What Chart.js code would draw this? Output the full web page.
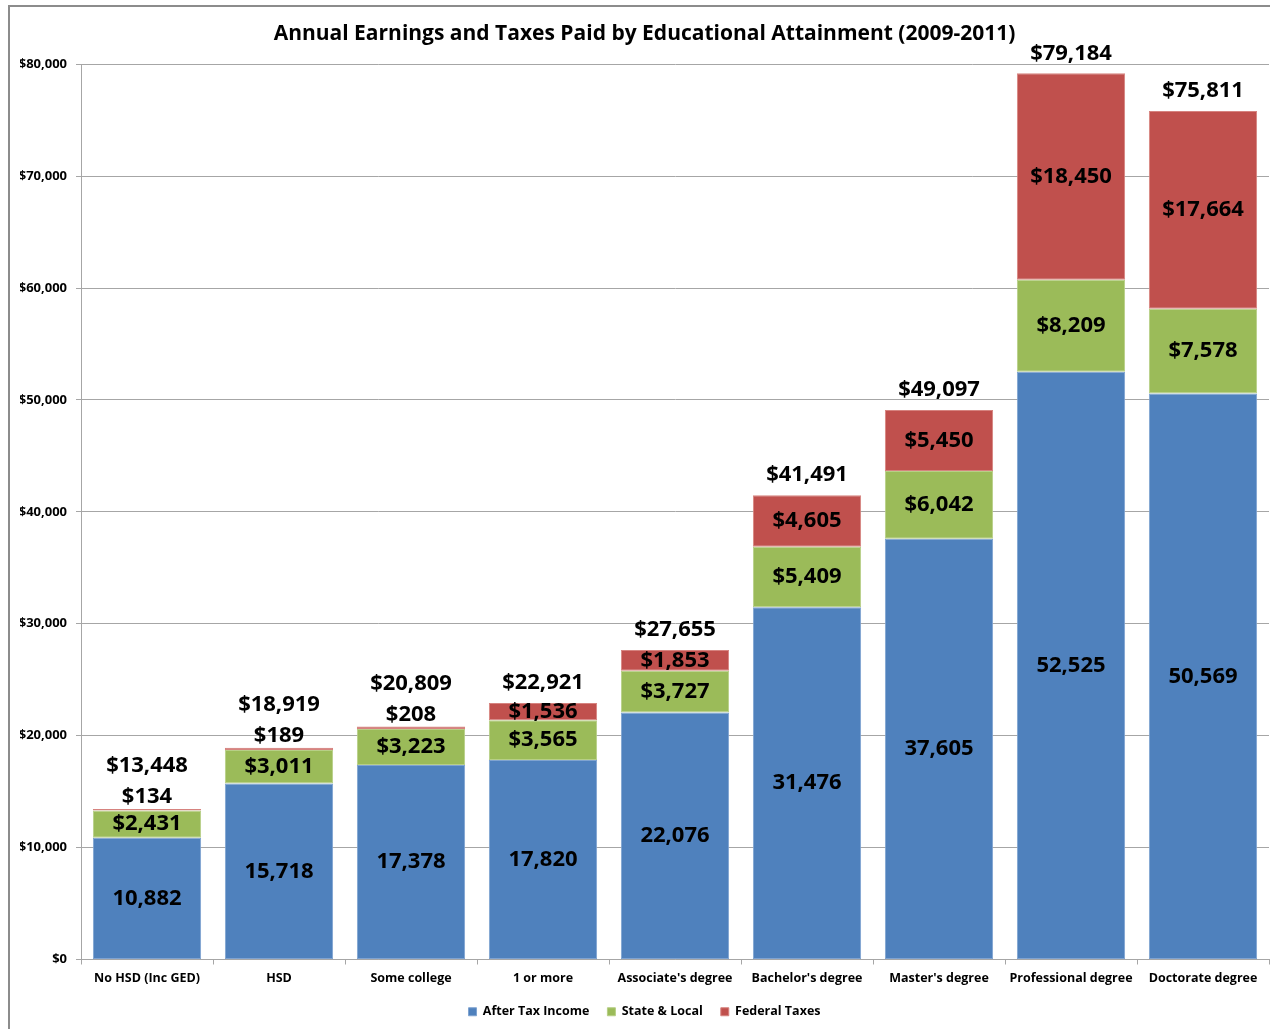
<!DOCTYPE html>
<html>
<head>
<meta charset="utf-8">
<title>Annual Earnings and Taxes Paid by Educational Attainment</title>
<script src="https://cdn.jsdelivr.net/npm/chart.js@4.4.0/dist/chart.umd.min.js"></script>
<style>
  html, body { margin: 0; padding: 0; background: #fff; overflow: hidden; }
  #frame { position: absolute; left: 8px; top: 5px; width: 1270px; height: 1040px;
           border-left: 2px solid #8c8c8c; border-top: 2px solid #8c8c8c; }
  #chartBox { position: absolute; left: 0; top: 0; width: 1260px; height: 1022px; }
</style>
</head>
<body>
<div id="frame"><div id="chartBox"><canvas id="myChart"></canvas></div></div>
<script>
const categories = ["No HSD (Inc GED)", "HSD", "Some college", "1 or more", "Associate's degree",
  "Bachelor's degree", "Master's degree", "Professional degree", "Doctorate degree"];
const afterTax   = [10882, 15718, 17378, 17820, 22076, 31476, 37605, 52525, 50569];
const stateLocal = [2431, 3011, 3223, 3565, 3727, 5409, 6042, 8209, 7578];
const federal    = [134, 189, 208, 1536, 1853, 4605, 5450, 18450, 17664];
const totals     = [13448, 18919, 20809, 22921, 27655, 41491, 49097, 79184, 75811];
const yTicks     = [0, 10000, 20000, 30000, 40000, 50000, 60000, 70000, 80000];

const FONT = "'Open Sans', Lato, sans-serif";

function money(v) {
  return "$" + v.toLocaleString("en-US");
}

// value labels inside each segment, totals on top of each stack
var segmentLabels = {
  id: "segmentLabels",
  afterDatasetsDraw: function(chart) {
    var ctx = chart.ctx;
    ctx.save();
    ctx.font = "bold 22px " + FONT;
    ctx.fillStyle = "#000";
    ctx.textAlign = "center";
    ctx.textBaseline = "middle";
    for (var i = 0; i < categories.length; i++) {
      var blue = chart.getDatasetMeta(0).data[i];
      var green = chart.getDatasetMeta(1).data[i];
      var red = chart.getDatasetMeta(2).data[i];
      ctx.fillText(afterTax[i].toLocaleString("en-US"), blue.x, (blue.y + blue.base) / 2);
      ctx.fillText(money(stateLocal[i]), green.x, (green.y + green.base) / 2);
      if (red.base - red.y < 10) {
        // too thin to hold its label, so it sits above the bar
        ctx.fillText(money(federal[i]), red.x, red.y - 12);
        ctx.fillText(money(totals[i]), red.x, red.y - 43);
      } else {
        ctx.fillText(money(federal[i]), red.x, (red.y + red.base) / 2);
        ctx.fillText(money(totals[i]), red.x, red.y - 20);
      }
    }
    ctx.restore();
  }
};

function barSet(label, data, color, edge) {
  return {
    label: label,
    data: data,
    backgroundColor: color,
    borderColor: edge,
    borderWidth: 1,
    borderSkipped: false,
    barPercentage: 0.82,
    categoryPercentage: 1.0
  };
}

new Chart("myChart", {
  type: "bar",
  data: {
    labels: categories,
    datasets: [
      barSet("After Tax Income", afterTax, "#4F81BD", "#7fa3d1"),
      barSet("State & Local", stateLocal, "#9BBB59", "#b7cf86"),
      barSet("Federal Taxes", federal, "#C0504D", "#d6837f")
    ]
  },
  plugins: [segmentLabels],
  options: {
    responsive: true,
    maintainAspectRatio: false,
    animation: false,
    layout: { padding: { left: 10, right: 1, top: 0, bottom: 1 } },
    scales: {
      x: {
        stacked: true,
        grid: { display: true, drawOnChartArea: false, tickLength: 5, color: "#a6a6a6", offset: true },
        border: { color: "#a6a6a6" },
        ticks: { color: "#000", font: { family: FONT, size: 12.5, weight: "bold" }, padding: 6, maxRotation: 0 },
        afterFit: function(scale) { scale.height = 28; }
      },
      y: {
        stacked: true,
        min: 0,
        max: 80000,
        afterBuildTicks: function(scale) {
          scale.ticks = yTicks.map(function(v) { return { value: v }; });
        },
        grid: { color: "#a6a6a6", tickLength: 5 },
        border: { color: "#a6a6a6" },
        ticks: {
          color: "#000",
          font: { family: FONT, size: 13, weight: "bold" },
          padding: 9,
          callback: function(v) { return money(v); }
        },
        afterFit: function(scale) { scale.width = 61; }
      }
    },
    plugins: {
      title: {
        display: true,
        text: "Annual Earnings and Taxes Paid by Educational Attainment (2009-2011)",
        color: "#000",
        font: { family: FONT, size: 21, weight: "bold" },
        padding: { top: 14, bottom: 18 }
      },
      legend: {
        position: "bottom",
        labels: {
          color: "#000",
          boxWidth: 8,
          boxHeight: 8,
          padding: 18,
          font: { family: FONT, size: 12.5, weight: "bold" }
        }
      },
      tooltip: { enabled: false }
    }
  }
});
</script>
</body>
</html>
